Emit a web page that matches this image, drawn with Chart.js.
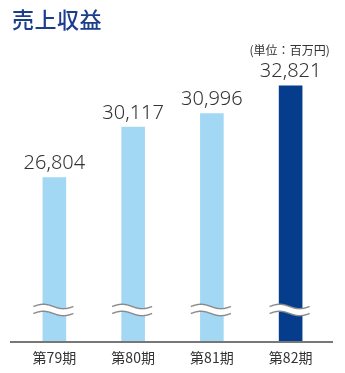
<!DOCTYPE html>
<html>
<head>
<meta charset="utf-8">
<script src="https://cdn.jsdelivr.net/npm/chart.js@4"></script>
<style>
  body { margin: 0; background: #fff; }
  #wrap { position: relative; width: 345px; height: 373px; }
  #title {
    position: absolute; left: 12px; top: 5px;
    font: 500 22px "Noto Sans CJK JP", sans-serif;
    line-height: 26px; color: #1b3d8c; letter-spacing: 0.5px;
  }
</style>
</head>
<body>
<div id="wrap">
  <div id="title">売上収益</div>
  <canvas id="revenueChart" width="345" height="373"></canvas>
</div>
<script>
// data
const periods = ["第79期", "第80期", "第81期", "第82期"];
const revenue = [26804, 30117, 30996, 32821];
const unitLabel = "(単位：百万円)";

const lightBlue = "#a3d8f5";
const navy = "#053c8c";

// value labels, unit, wavy break marks and base line
const decorations = {
  id: "decorations",
  afterDatasetsDraw(chart) {
    const ctx = chart.ctx;
    const bars = chart.getDatasetMeta(0).data;
    const yScale = chart.scales.y;
    const area = chart.chartArea;

    ctx.save();
    // break marks
    const yb = yScale.getPixelForValue(18100);
    bars.forEach(bar => {
      const x0 = bar.x - 21, x1 = bar.x + 19;
      const wave = (off) => {
        ctx.beginPath();
        for (let i = 0; i <= 40; i++) {
          const t = i / 40;
          const px = x0 + (x1 - x0) * t;
          const py = yb + off - 2.2 * Math.sin(t * Math.PI * 2);
          if (i === 0) ctx.moveTo(px, py); else ctx.lineTo(px, py);
        }
      };
      // white band
      ctx.beginPath();
      for (let i = 0; i <= 40; i++) {
        const t = i / 40;
        ctx.lineTo(x0 + (x1 - x0) * t, yb - 3.5 - 2.2 * Math.sin(t * Math.PI * 2));
      }
      for (let i = 40; i >= 0; i--) {
        const t = i / 40;
        ctx.lineTo(x0 + (x1 - x0) * t, yb + 3.5 - 2.2 * Math.sin(t * Math.PI * 2));
      }
      ctx.closePath();
      ctx.fillStyle = "#fff";
      ctx.fill();
      ctx.strokeStyle = "#8a8a8a";
      ctx.lineWidth = 1.4;
      wave(-3.5); ctx.stroke();
      wave(3.5); ctx.stroke();
    });

    // value labels
    ctx.fillStyle = "#333";
    ctx.font = "300 20px 'Noto Sans', sans-serif";
    ctx.textAlign = "center";
    ctx.textBaseline = "alphabetic";
    bars.forEach((bar, i) => {
      ctx.fillText(revenue[i].toLocaleString("en-US"), bar.x, bar.y - 8);
    });

    // unit
    const last = bars[bars.length - 1];
    ctx.font = "12px 'Noto Sans CJK JP', sans-serif";
    ctx.textBaseline = "middle";
    ctx.fillText(unitLabel, last.x - 1, 50);

    // base line
    ctx.strokeStyle = "#777";
    ctx.lineWidth = 2;
    ctx.beginPath();
    ctx.moveTo(area.left - 5, area.bottom);
    ctx.lineTo(area.right + 3, area.bottom);
    ctx.stroke();
    ctx.restore();
  }
};

new Chart(document.getElementById("revenueChart"), {
  type: "bar",
  data: {
    labels: periods,
    datasets: [{
      data: revenue,
      backgroundColor: revenue.map((v, i) => i === revenue.length - 1 ? navy : lightBlue),
      barPercentage: 0.3,
      categoryPercentage: 1.0
    }]
  },
  options: {
    responsive: false,
    animation: false,
    layout: { padding: { top: 37, left: 15, right: 15, bottom: 0 } },
    plugins: {
      legend: { display: false },
      tooltip: { enabled: false }
    },
    scales: {
      x: {
        grid: { display: false, drawTicks: false },
        border: { display: false },
        ticks: {
          color: "#333",
          padding: 7,
          font: { family: "'Noto Sans CJK JP', sans-serif", size: 14 }
        },
        afterFit(axis) { axis.height = 31; }
      },
      y: {
        display: false,
        min: 16000,
        max: 36000
      }
    }
  },
  plugins: [decorations]
});
</script>
</body>
</html>
